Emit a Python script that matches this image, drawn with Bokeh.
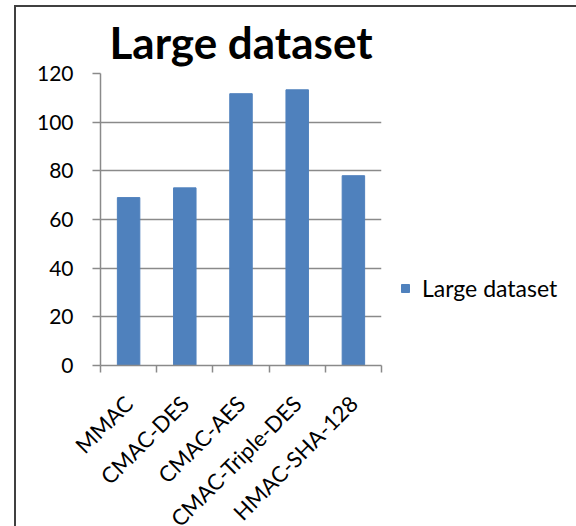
import numpy as np
from bokeh.plotting import figure
from bokeh.models import (Range1d, FixedTicker, Legend, LegendItem, ColumnDataSource)
from bokeh.embed import file_html
from bokeh.resources import INLINE

categories = ["MMAC", "CMAC-DES", "CMAC-AES", "CMAC-Triple-DES", "HMAC-SHA-128"]
values = [69, 73, 111.7, 113.3, 78]
series_name = "Large dataset"
y_ticks = [0, 20, 40, 60, 80, 100, 120]

FONT = "Lato"
GRID = "#8a8a8a"

n = len(categories)
centers = [i + 0.5 for i in range(n)]
bounds = list(range(n + 1))
src = ColumnDataSource(dict(x=centers, cat=categories, val=values))

p = figure(
    x_range=Range1d(0, n),
    y_range=Range1d(0, 120),
    width=554, height=519,
    frame_width=281, frame_height=292,
    min_border_left=84, min_border_top=62, min_border_right=189, min_border_bottom=161,
    output_backend="svg", toolbar_location=None,
    title=series_name,
    styles={"border": "2px solid #404040", "border-bottom": "none",
            "margin-left": "14px", "margin-top": "5px"},
)

r = p.vbar(x="x", top="val", width=0.4, source=src,
           fill_color="#4F81BD", line_color="#4F81BD")

p.title.text_font = FONT
p.title.text_font_size = "44px"
p.title.text_font_style = "bold"
p.title.align = "center"
p.title.text_color = "#000000"
p.title.standoff = 12

# y axis
ya = p.yaxis[0]
ya.ticker = FixedTicker(ticks=y_ticks)
ya.axis_line_color = GRID
ya.axis_line_width = 1.5
ya.major_tick_line_color = GRID
ya.major_tick_line_width = 1.5
ya.major_tick_out = 8
ya.major_tick_in = 0
ya.minor_tick_line_color = None
ya.major_label_text_font = FONT
ya.major_label_text_font_size = "21px"
ya.major_label_text_color = "#000000"
ya.major_label_standoff = 19

# x axis: labels at category centres, ticks at category boundaries
xa = p.xaxis[0]
xa.ticker = FixedTicker(ticks=centers, minor_ticks=bounds)
xa.major_label_overrides = {c: lab for c, lab in zip(centers, categories)}
xa.axis_line_color = GRID
xa.axis_line_width = 1.5
xa.major_tick_line_color = None
xa.major_tick_out = 7
xa.major_tick_in = 0
xa.minor_tick_line_color = GRID
xa.minor_tick_line_width = 1.5
xa.minor_tick_out = 7
xa.minor_tick_in = 0
xa.major_label_orientation = np.pi / 4
xa.major_label_text_font = FONT
xa.major_label_text_font_size = "22px"
xa.major_label_text_color = "#000000"
xa.major_label_standoff = 27

p.xgrid.grid_line_color = None
p.ygrid[0].ticker = FixedTicker(ticks=y_ticks)
p.ygrid.grid_line_color = GRID
p.ygrid.grid_line_width = 1.5

p.outline_line_color = None

legend = Legend(items=[LegendItem(label=series_name, renderers=[r])],
                location=(19, 63), padding=0, margin=0, spacing=0,
                glyph_width=10, glyph_height=10, label_standoff=12,
                label_text_font=FONT, label_text_font_size="23px",
                label_text_color="#000000",
                border_line_color=None, background_fill_alpha=0)
p.add_layout(legend, "right")

open("out.html", "w").write(file_html(p, INLINE))
